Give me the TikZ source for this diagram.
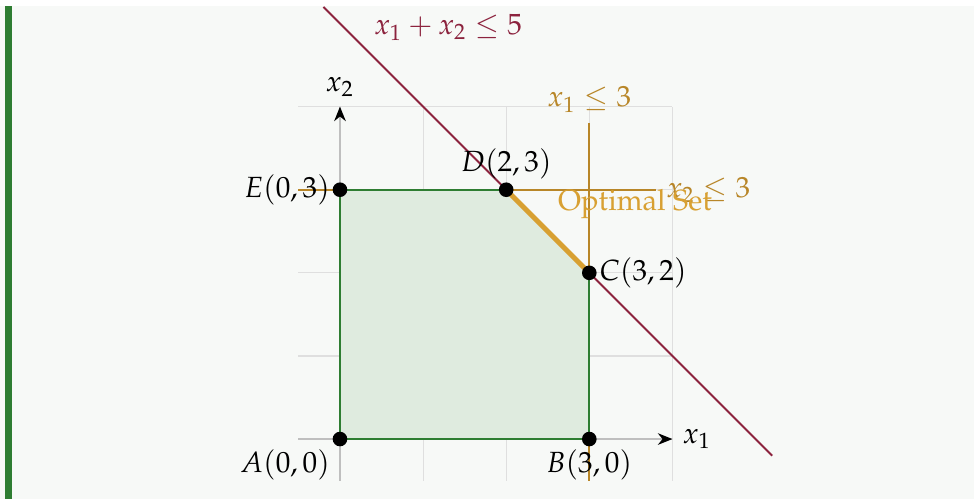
\documentclass[tikz,border=0pt]{standalone}
\usepackage[T1]{fontenc}
\usepackage{mathpazo}
\usepackage{amsmath,amssymb}
\usetikzlibrary{arrows.meta,positioning,calc}
\definecolor{PageBg}{RGB}{247,249,247}
\definecolor{BarGreen}{HTML}{2E7D32}
\definecolor{RegionFill}{RGB}{223,235,223}
\definecolor{Maroon}{RGB}{140,35,62}
\definecolor{Gold}{RGB}{184,134,40}
\definecolor{OptGold}{RGB}{216,160,50}

\begin{document}
\begin{tikzpicture}[>={Stealth[black,length=5pt,width=4pt]},
  dot/.style={circle,fill=black,inner sep=0pt,minimum size=5pt},
  cons/.style={Gold,line width=0.7pt}]
  \useasboundingbox (-4.091,-0.722) rectangle (7.629,5.283);
  \fill[PageBg] (-4.091,-0.722) rectangle (7.629,5.211);
  \fill[BarGreen] (-4.031,-0.722) rectangle (-3.947,5.211);
  % grid and axes
  \draw[gray!25,thin] (-0.5,-0.5) grid (4,4);
  \draw[->,gray!50] (-0.5,0)--(4,0) node[right,black] (xlab) {$x_1$};
  \draw[->,gray!50] (0,-0.5)--(0,4) node[above,black] (ylab) {$x_2$};
  % constraints
  \coordinate (v1top) at (3,3.8);
  \coordinate (v1bot) at (3,-0.5);
  \coordinate (h2left) at (-0.5,3);
  \coordinate (h2right) at (3.8,3);
  \draw[cons] (v1bot)--(v1top) node[above,Gold] (c1lab) {$x_1\leq 3$};
  \draw[cons] (h2left)--(h2right) node[right,Gold] (c2lab) {$x_2\leq 3$};
  % feasible region
  \coordinate (A) at (0,0);
  \coordinate (B) at (3,0);
  \coordinate (C) at (3,2);
  \coordinate (D) at (2,3);
  \coordinate (E) at (0,3);
  \fill[RegionFill] (A)--(B)--(C)--(D)--(E)--cycle;
  \draw[BarGreen,line width=0.8pt] (D)--(E)--(A)--(B)--(C);
  \coordinate (sumtop) at (-0.2,5.2);
  \coordinate (sumbot) at (5.2,-0.2);
  \draw[Maroon,line width=0.7pt] (sumtop)--(sumbot);
  \node[Maroon] (sumlab) at (1.3,4.95) {$x_1+x_2\leq 5$};
  \draw[OptGold,line width=1.7pt] (D)--(C);
  \node[OptGold] (optlab) at (3.55,2.83) {Optimal Set};
  % vertices
  \foreach \p in {A,B,C,D,E} \node[dot] at (\p) {};
  \node[below left=0pt of A] (alab) {$A(0,0)$};
  \node[below=0pt of B] (blab) {$B(3,0)$};
  \node[right=0pt of C] (clab) {$C(3,2)$};
  \node[above=0pt of D] (dlab) {$D(2,3)$};
  \node[left=0pt of E] (elab) {$E(0,3)$};
\end{tikzpicture}
\end{document}
